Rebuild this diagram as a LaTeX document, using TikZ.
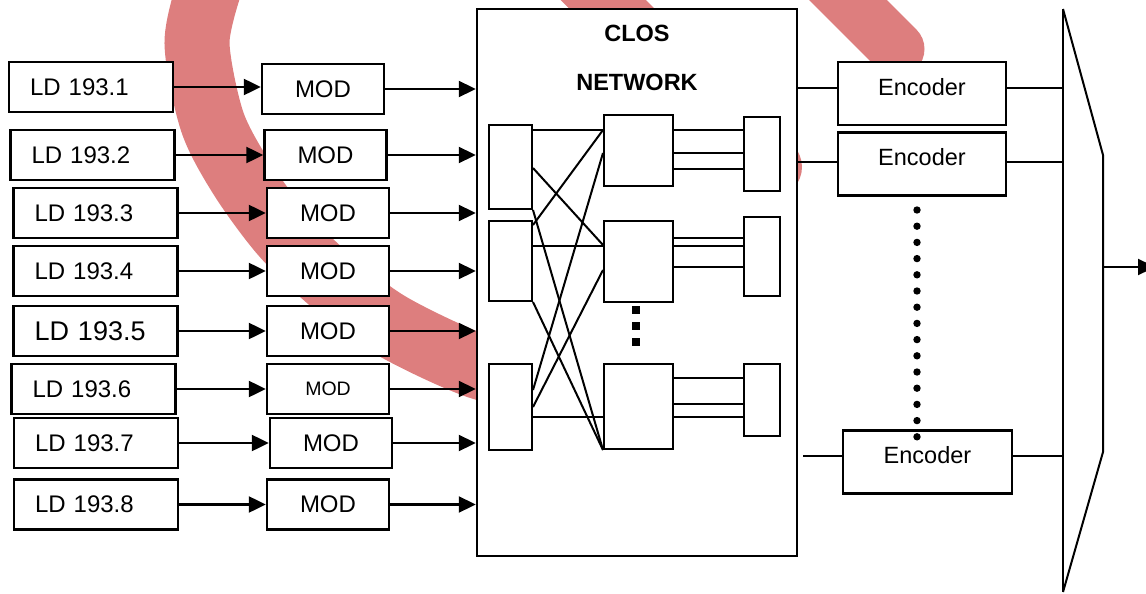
\documentclass[tikz,border=0pt]{standalone}
\usepackage{fontspec}
\setmainfont{Liberation Sans}
\usetikzlibrary{arrows.meta}
\definecolor{swoosh}{RGB}{221,126,126}
\tikzset{
  ldbox/.style={shape=rectangle,draw=black,fill=white,line width=2.4pt,minimum height=50pt,text width=122pt,inner xsep=21pt,inner ysep=0pt,align=left,font=\fontsize{24}{28}\selectfont},
  modbox/.style={shape=rectangle,draw=black,fill=white,line width=2.4pt,minimum width=122pt,minimum height=50pt,inner sep=0pt,font=\fontsize{24}{28}\selectfont},
  encbox/.style={shape=rectangle,draw=black,fill=white,line width=2.4pt,minimum width=168pt,minimum height=63pt,inner sep=0pt,text depth=14pt,font=\fontsize{23.5}{27}\selectfont},
  cell/.style={shape=rectangle,draw=black,fill=white,line width=2pt,inner sep=0pt},
  feed/.style={-{Triangle[length=17pt,width=16pt]},line width=2.3pt},
  wire/.style={line width=2pt},
  swooshband/.style={draw=swoosh,line cap=round,line width=65pt}
}
\begin{document}
\begin{tikzpicture}[x=1pt,y=-1pt]
  \useasboundingbox (0,0) rectangle (1146,594);
  \draw[swooshband] plot[smooth] coordinates {(210,-15) (197,43) (212,121) (241,177) (282,233) (330,280) (390,325) (477,366) (560,385)};
  \draw[swooshband,line width=60pt] (580,-23) -- (772,167);
  \draw[swooshband,line width=55pt] (820,-28) -- (897,49);

  \node[ldbox] (ld1) at (91,87) {LD 193.1};
  \node[ldbox] (ld2) at (92.5,155) {LD 193.2};
  \node[ldbox] (ld3) at (95.5,213) {LD 193.3};
  \node[ldbox] (ld4) at (95.5,271) {LD 193.4};
  \node[ldbox,font=\fontsize{27}{30}\selectfont] (ld5) at (95.5,331) {LD 193.5};
  \node[ldbox] (ld6) at (93.5,389) {LD 193.6};
  \node[ldbox] (ld7) at (96,443) {LD 193.7};
  \node[ldbox] (ld8) at (96,504.5) {LD 193.8};

  \node[modbox] (mod1) at (323,89) {MOD};
  \node[modbox] (mod2) at (325.5,155) {MOD};
  \node[modbox] (mod3) at (328,213) {MOD};
  \node[modbox] (mod4) at (328,271) {MOD};
  \node[modbox] (mod5) at (328,331) {MOD};
  \node[modbox,font=\fontsize{19.5}{23}\selectfont] (mod6) at (328,389) {MOD};
  \node[modbox] (mod7) at (331,443) {MOD};
  \node[modbox] (mod8) at (328,504.5) {MOD};

  \node[shape=rectangle,draw=black,fill=white,line width=2.5pt,minimum width=320pt,minimum height=547pt] (clos) at (637,282.5) {};
  \node[align=center,inner sep=0pt,font=\bfseries\fontsize{23.5}{49}\selectfont] (title) at (637,57.5) {CLOS\\NETWORK};

  \foreach \i in {1,...,8} {
    \path [feed] (ld\i.east) edge (ld\i.east -| mod\i.west);
    \path [feed] (mod\i.east) edge (mod\i.east -| clos.west);
  }

  \node[cell,minimum width=43pt,minimum height=84pt] (a1) at (510.5,167) {};
  \node[cell,minimum width=43pt,minimum height=80pt] (a2) at (510.5,261) {};
  \node[cell,minimum width=43pt,minimum height=86pt] (a3) at (510.5,407) {};
  \node[cell,minimum width=69pt,minimum height=71pt] (b1) at (638.5,150.5) {};
  \node[cell,minimum width=69pt,minimum height=81pt] (b2) at (638.5,261.5) {};
  \node[cell,minimum width=69pt,minimum height=85pt] (b3) at (638.5,406.5) {};
  \node[cell,minimum width=36pt,minimum height=74pt] (c1) at (762,154) {};
  \node[cell,minimum width=36pt,minimum height=79pt] (c2) at (762,256.5) {};
  \node[cell,minimum width=36pt,minimum height=72pt] (c3) at (762,400) {};

  \path [wire] (a1.east |- 0,130) edge (b1.west |- 0,130);
  \path [wire] (a1.east |- 0,168) edge (b2.west |- 0,245);
  \path [wire] (a1.south east) edge (b3.south west);
  \path [wire] (a2.east |- 0,225) edge (b1.west |- 0,130);
  \path [wire] (a2.east |- 0,246) edge (b2.west |- 0,246);
  \path [wire] (a2.south east) edge (b3.south west);
  \path [wire] (a3.east |- 0,390) edge (b1.west |- 0,153);
  \path [wire] (a3.east) edge (b2.west |- 0,270);
  \path [wire] (a3.east |- 0,417) edge (b3.west |- 0,417);

  \foreach \b/\c/\yy in {b1/c1/130,b1/c1/153,b1/c1/169,b2/c2/238,b2/c2/246,b2/c2/267,b3/c3/378,b3/c3/404,b3/c3/417}
    \path [wire] (\b.east |- 0,\yy) edge (\c.west |- 0,\yy);

  \foreach \yy in {310,326,342}
    \fill (632,\yy-4) rectangle (640,\yy+4);

  \node[encbox] (enc1) at (922,93.5) {Encoder};
  \node[encbox] (enc2) at (922,164) {Encoder};
  \node[encbox,minimum width=169pt] (enc3) at (927.5,462) {Encoder};

  \foreach \k in {0,...,14}
    \fill (917,210+16.2*\k) circle (3.7pt);

  \coordinate (muxin) at (1063,300);
  \coordinate (muxout) at (1103,267);
  \coordinate (out) at (1155,267);
  \coordinate (enc3in) at (803,456);
  \draw[wire] (1063,9) -- (1063,592);
  \draw[wire] (1063,9) -- (1103,155) -- (1103,452) -- (1063,592);

  \path [wire] (clos.east |- 0,88) edge (enc1.west |- 0,88);
  \path [wire] (clos.east |- 0,162) edge (enc2.west |- 0,162);
  \path [wire] (enc3in) edge (enc3.west |- enc3in);
  \path [wire] (enc1.east |- 0,88) edge (muxin |- 0,88);
  \path [wire] (enc2.east |- 0,162) edge (muxin |- 0,162);
  \path [wire] (enc3.east |- enc3in) edge (muxin |- enc3in);
  \path [feed] (muxout) edge (out);
\end{tikzpicture}
\end{document}
